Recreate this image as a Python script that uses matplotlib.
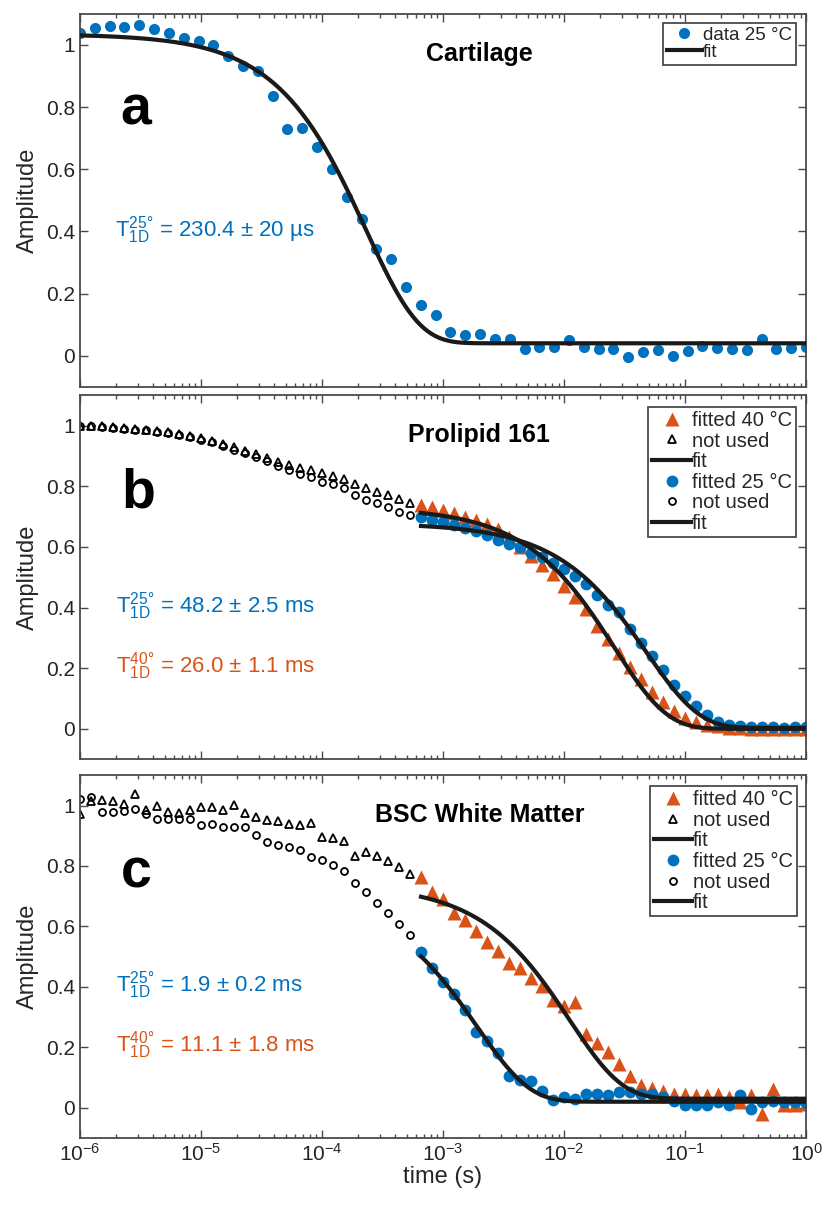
import numpy as np
import matplotlib.pyplot as plt
from matplotlib.ticker import LogLocator, NullFormatter

plt.rcParams['font.family'] = ['Liberation Sans', 'DejaVu Sans']
plt.rcParams['mathtext.fontset'] = 'custom'
plt.rcParams['mathtext.rm'] = 'Liberation Sans'
plt.rcParams['mathtext.it'] = 'Liberation Sans:italic'
plt.rcParams['mathtext.bf'] = 'Liberation Sans:bold'
plt.rcParams['mathtext.default'] = 'regular'
plt.rcParams['axes.unicode_minus'] = False

BLUE = '#0072BD'
ORANGE = '#D95319'
AXC = '#4a4a4a'
TXT = '#262626'

# acquisition grids (log spaced echo times, s)
t_a = np.logspace(-6, 0, 50)
t_bc = np.logspace(-6, 0, 67)
n_skip = 31  # points before this index were not used in the fit

# (a) cartilage, 25 C
amp_a = [1.040, 1.054, 1.060, 1.057, 1.064, 1.051, 1.038, 1.021, 1.012, 1.001,
         0.963, 0.931, 0.916, 0.836, 0.728, 0.733, 0.670, 0.600, 0.510, 0.440,
         0.345, 0.312, 0.222, 0.162, 0.132, 0.075, 0.066, 0.070, 0.053, 0.053,
         0.021, 0.029, 0.029, 0.051, 0.029, 0.021, 0.021, -0.005, 0.011, 0.019,
         -0.002, 0.014, 0.032, 0.025, 0.021, 0.019, 0.053, 0.021, 0.025, 0.029]
fit_a = dict(amp=0.995, T=230.4e-6, off=0.04)

# (b) prolipid 161
b40_unused = [1.000, 1.000, 0.998, 0.995, 0.993, 0.990, 0.987, 0.983, 0.978, 0.973,
              0.967, 0.958, 0.950, 0.938, 0.928, 0.916, 0.905, 0.893, 0.880, 0.870,
              0.861, 0.852, 0.844, 0.834, 0.823, 0.808, 0.795, 0.782, 0.770, 0.758,
              0.746]
b40_fitted = [0.739, 0.733, 0.722, 0.711, 0.700, 0.687, 0.676, 0.660, 0.632, 0.600,
              0.570, 0.540, 0.510, 0.470, 0.436, 0.395, 0.340, 0.295, 0.251, 0.204,
              0.163, 0.120, 0.088, 0.060, 0.035, 0.022, 0.014, 0.008, 0.004, 0.002,
              0.001, -0.002, 0.001, -0.001, 0.000, -0.002]
b25_unused = [1.000, 0.998, 0.996, 0.993, 0.990, 0.987, 0.984, 0.980, 0.975, 0.969,
              0.962, 0.954, 0.945, 0.933, 0.921, 0.909, 0.896, 0.882, 0.868, 0.855,
              0.840, 0.829, 0.815, 0.806, 0.793, 0.772, 0.756, 0.745, 0.730, 0.716,
              0.706]
b25_fitted = [0.698, 0.689, 0.681, 0.673, 0.663, 0.652, 0.638, 0.624, 0.611, 0.598,
              0.580, 0.567, 0.547, 0.526, 0.504, 0.478, 0.440, 0.409, 0.385, 0.328,
              0.284, 0.240, 0.193, 0.145, 0.108, 0.074, 0.045, 0.022, 0.011, 0.009,
              0.006, 0.005, 0.006, 0.004, 0.005, 0.006]
fit_b40 = dict(amp=0.73, T=26.0e-3, off=0.0)
fit_b25 = dict(amp=0.675, T=48.2e-3, off=0.003)

# (c) BSC white matter
c40_unused = [0.973, 1.016, 1.018, 1.014, 1.006, 1.038, 0.984, 0.997, 0.978, 0.975,
              0.984, 0.995, 0.995, 0.984, 1.003, 0.975, 0.962, 0.953, 0.948, 0.938,
              0.936, 0.942, 0.896, 0.894, 0.884, 0.833, 0.847, 0.834, 0.818, 0.796,
              0.772]
c40_fitted = [0.764, 0.715, 0.690, 0.644, 0.622, 0.586, 0.550, 0.518, 0.479, 0.463,
              0.430, 0.402, 0.358, 0.336, 0.350, 0.243, 0.213, 0.184, 0.145, 0.104,
              0.077, 0.067, 0.057, 0.046, 0.044, 0.041, 0.041, 0.046, 0.035, 0.019,
              0.041, -0.020, 0.063, 0.008, 0.008, 0.013]
c25_unused = [1.022, 1.027, 0.978, 0.978, 0.981, 0.990, 0.973, 0.956, 0.956, 0.957,
              0.957, 0.934, 0.938, 0.929, 0.929, 0.929, 0.901, 0.879, 0.871, 0.863,
              0.852, 0.830, 0.821, 0.803, 0.784, 0.745, 0.715, 0.677, 0.644, 0.609,
              0.572]
c25_fitted = [0.517, 0.463, 0.416, 0.378, 0.323, 0.252, 0.220, 0.182, 0.106, 0.093,
              0.088, 0.057, 0.027, 0.036, 0.028, 0.046, 0.046, 0.043, 0.052, 0.052,
              0.046, 0.046, 0.035, 0.024, 0.008, 0.008, 0.008, 0.019, 0.008, 0.041,
              -0.003, 0.019, 0.024, 0.020, 0.019, 0.016]
fit_c40 = dict(amp=0.709, T=11.1e-3, off=0.03)
fit_c25 = dict(amp=0.68, T=1.9e-3, off=0.02)


def decay(t, amp, T, off):
    return amp * np.exp(-t / T) + off


def style(ax, bottom_labels):
    ax.set_xscale('log')
    ax.set_xlim(1e-6, 1)
    ax.set_ylim(-0.1, 1.1)
    ax.set_yticks([0, 0.2, 0.4, 0.6, 0.8, 1])
    ax.set_yticklabels(['0', '0.2', '0.4', '0.6', '0.8', '1'])
    ax.xaxis.set_major_locator(LogLocator(base=10, numticks=10))
    ax.xaxis.set_minor_locator(LogLocator(base=10, subs=np.arange(2, 10), numticks=10))
    ax.xaxis.set_minor_formatter(NullFormatter())
    ax.tick_params(which='both', direction='in', top=True, right=True,
                   color=AXC, width=1.0)
    ax.tick_params(which='major', length=6, labelsize=15, labelcolor=TXT)
    ax.tick_params(which='minor', length=3)
    if not bottom_labels:
        ax.tick_params(labelbottom=False)
    for s in ax.spines.values():
        s.set_color(AXC)
        s.set_linewidth(1.3)
    ax.set_ylabel('Amplitude', fontsize=17, color=TXT, labelpad=5)


def legend(ax, handles, labels, anchor, size, spacing):
    leg = ax.legend(handles, labels, loc='upper right', bbox_to_anchor=anchor,
                    borderaxespad=0, fontsize=size, fancybox=False, framealpha=1,
                    edgecolor=AXC, handlelength=1.9, handletextpad=0.05,
                    labelspacing=spacing, borderpad=0.2, numpoints=1)
    leg.get_frame().set_linewidth(1.3)
    for txt in leg.get_texts():
        txt.set_color(TXT)


fig = plt.figure(figsize=(8.27, 12.05), dpi=100)
ax_a = fig.add_axes([0.0967, 0.679, 0.878, 0.3095])
ax_b = fig.add_axes([0.0967, 0.370, 0.878, 0.302])
ax_c = fig.add_axes([0.0967, 0.0556, 0.878, 0.301])

# ---- a
style(ax_a, False)
h_data, = ax_a.plot(t_a, amp_a, 'o', color=BLUE, ms=8, mec='none')
tt = np.logspace(-6, 0, 400)
h_fit, = ax_a.plot(tt, decay(tt, **fit_a), '-', color='#1a1a1a', lw=3, zorder=3)
legend(ax_a, [h_data, h_fit], ['data 25 °C', 'fit'], (0.986, 0.976), 13.5, 0.0)
ax_a.text(0.55, 0.947, 'Cartilage', transform=ax_a.get_yaxis_transform(),
          ha='center', va='baseline', fontsize=18, fontweight='bold')
ax_a.text(0.055, 0.745, 'a', transform=ax_a.get_yaxis_transform(),
          ha='left', va='baseline', fontsize=40, fontweight='bold')
ax_a.text(0.048, 0.382, '$T^{25°}_{1D}$ = 230.4 ± 20 µs',
          transform=ax_a.get_yaxis_transform(), ha='left', va='baseline',
          fontsize=16, color=BLUE)


def panel(ax, hot_unused, hot_fitted, cold_unused, cold_fitted, fit_hot, fit_cold,
          title, letter, hot_txt, cold_txt, anchor):
    style(ax, ax is ax_c)
    t_un = t_bc[:n_skip]
    t_fi = t_bc[n_skip:]
    h1, = ax.plot(t_fi, hot_fitted, '^', color=ORANGE, ms=9.5, mec='none')
    h4, = ax.plot(t_fi, cold_fitted, 'o', color=BLUE, ms=8.5, mec='none')
    h5, = ax.plot(t_un, cold_unused, 'o', mfc='none', mec='k', ms=5, mew=1.3)
    h2, = ax.plot(t_un, hot_unused, '^', mfc='none', mec='k', ms=5.5, mew=1.3)
    tf = np.logspace(np.log10(t_fi[0]), 0, 300)
    h3, = ax.plot(tf, decay(tf, **fit_hot), '-', color='#1a1a1a', lw=3, zorder=3)
    h6, = ax.plot(tf, decay(tf, **fit_cold), '-', color='#1a1a1a', lw=3, zorder=3)
    legend(ax, [h1, h2, h3, h4, h5, h6],
           ['fitted 40 °C', 'not used', 'fit', 'fitted 25 °C', 'not used', 'fit'],
           anchor, 14.5, 0.08)
    tr = ax.get_yaxis_transform()
    ax.text(0.55, 0.945, title, transform=tr, ha='center', va='baseline',
            fontsize=18, fontweight='bold')
    ax.text(0.057, 0.73, letter, transform=tr, ha='left', va='baseline',
            fontsize=40, fontweight='bold')
    ax.text(0.05, 0.383, cold_txt, transform=tr, ha='left', va='baseline',
            fontsize=16, color=BLUE)
    ax.text(0.05, 0.186, hot_txt, transform=tr, ha='left', va='baseline',
            fontsize=16, color=ORANGE)


panel(ax_b, b40_unused, b40_fitted, b25_unused, b25_fitted, fit_b40, fit_b25,
      'Prolipid 161', 'b',
      '$T^{40°}_{1D}$ = 26.0 ± 1.1 ms', '$T^{25°}_{1D}$ = 48.2 ± 2.5 ms',
      (0.986, 0.968))
panel(ax_c, c40_unused, c40_fitted, c25_unused, c25_fitted, fit_c40, fit_c25,
      'BSC White Matter', 'c',
      '$T^{40°}_{1D}$ = 11.1 ± 1.8 ms', '$T^{25°}_{1D}$ = 1.9 ± 0.2 ms',
      (0.988, 0.970))
ax_c.set_xlabel('time (s)', fontsize=17, color=TXT, labelpad=1)

fig.savefig('out.png', dpi=100)
